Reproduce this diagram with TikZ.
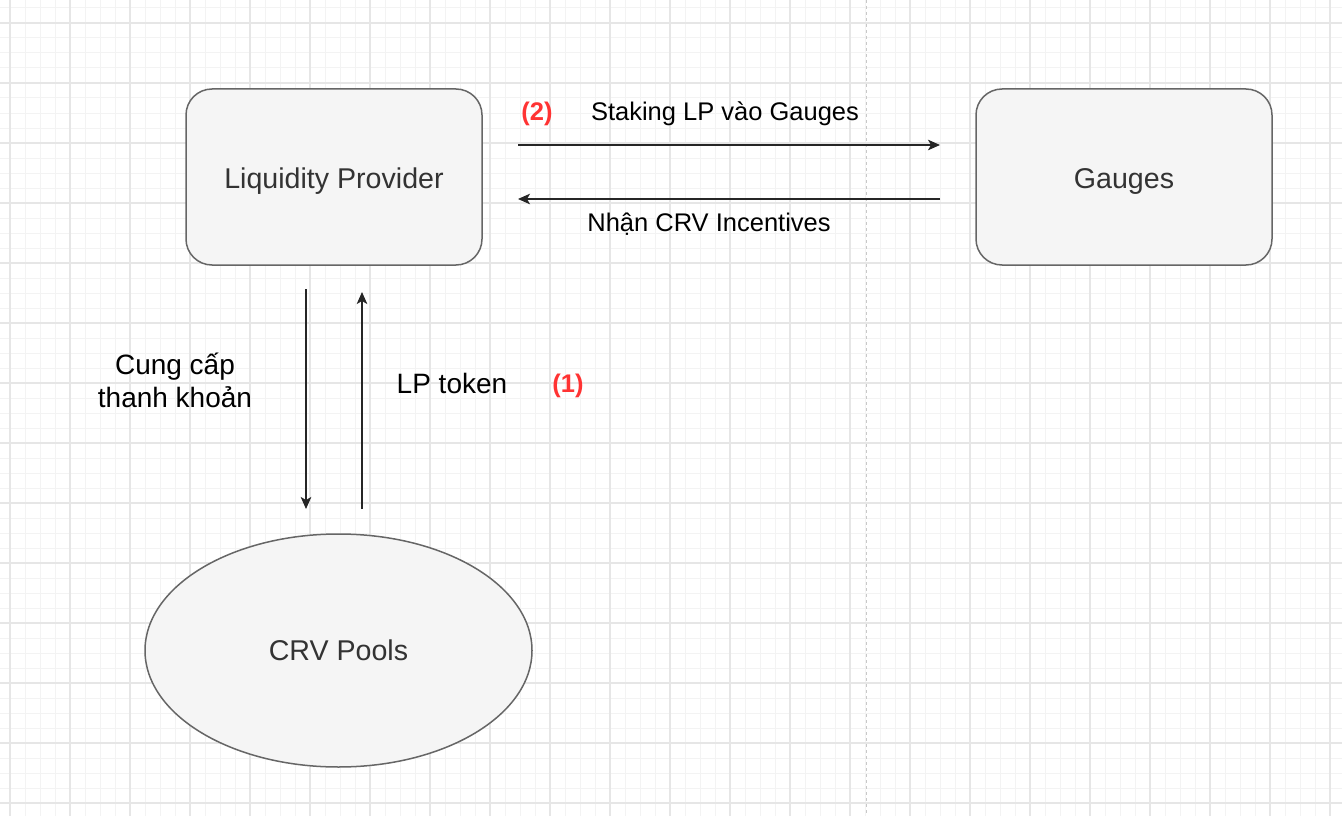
\documentclass[tikz,border=0pt]{standalone}
\usepackage{fontspec}
\setmainfont{Liberation Sans}
\usetikzlibrary{arrows.meta,shapes.geometric,calc}
\definecolor{boxfill}{HTML}{F5F5F5}
\definecolor{boxline}{HTML}{666666}
\definecolor{boxtext}{HTML}{333333}
\definecolor{numred}{HTML}{FF3333}
\definecolor{gridminor}{HTML}{F3F3F3}
\definecolor{gridmajor}{HTML}{E6E6E6}
\definecolor{sepline}{HTML}{C8C8C8}
\tikzset{
  boxstyle/.style={draw=boxline, fill=boxfill, line width=1.5pt, rounded corners=26pt,
    minimum width=296pt, minimum height=176pt, inner sep=0pt, outer sep=0pt,
    text height=22pt, text depth=0pt,
    text=boxtext, font=\fontsize{28.6}{34}\selectfont},
  poolstyle/.style={ellipse, draw=boxline, fill=boxfill, line width=1.5pt,
    minimum width=387pt, minimum height=233pt, inner sep=0pt, outer sep=0pt,
    text height=20pt, text depth=0pt,
    text=boxtext, font=\fontsize{28.6}{34}\selectfont},
  lbl/.style={text=black, inner sep=0pt, anchor=base, font=\fontsize{25.5}{31}\selectfont},
  biglbl/.style={text=black, inner sep=0pt, anchor=base, font=\fontsize{28}{33}\selectfont},
  numlbl/.style={text=numred, inner sep=0pt, anchor=base, font=\fontsize{25.5}{31}\selectfont\bfseries},
  arr/.style={draw=black!85, line width=1.6pt, -{Stealth[length=12pt,width=10.5pt,inset=3pt]}},
}
\begin{document}
\begin{tikzpicture}[x=1pt,y=-1pt]
\useasboundingbox (0,0) rectangle (1342,816);
\fill[white] (0,0) rectangle (1342,816);
% grid
\foreach \x in {10,25,...,1340} \draw[gridminor, line width=1pt] (\x,0) -- (\x,816);
\foreach \y in {8,23,...,815} \draw[gridminor, line width=1pt] (0,\y) -- (1342,\y);
\foreach \x in {10,70,...,1340} \draw[gridmajor, line width=1.2pt] (\x,0) -- (\x,816);
\foreach \y in {23,83,...,815} \draw[gridmajor, line width=1.2pt] (0,\y) -- (1342,\y);
% separator
\draw[sepline, line width=1pt, dash pattern=on 3pt off 3pt] (866,0) -- (866,816);

% nodes
\node[boxstyle] (lp) at (334,177) {Liquidity Provider};
\node[boxstyle] (gauges) at (1124,177) {Gauges};
\node[poolstyle] (pools) at (338.5,650.5) {CRV Pools};

% connectors
\draw[arr] ($(lp.east)+(36,-32)$) -- ($(gauges.west)+(-36,-32)$);
\draw[arr] ($(gauges.west)+(-36,22)$) -- ($(lp.east)+(36,22)$);
\draw[arr] ($(lp.south)+(-28,24)$) -- ($(pools.north)+(-32.5,-25)$);
\draw[arr] ($(pools.north)+(23.5,-25)$) -- ($(lp.south)+(28,27)$);

% labels
\node[numlbl] (n2) at (537,121) {(2)};
\node[lbl] (stake) at (725,121) {Staking LP vào Gauges};
\node[lbl] (recv) at (709,231) {Nhận CRV Incentives};
\node[biglbl, align=center] (supply) at (175,407) {Cung cấp\\thanh khoản};
\node[biglbl] (lptok) at (452,393) {LP token};
\node[numlbl] (n1) at (568,392) {(1)};
\end{tikzpicture}
\end{document}
